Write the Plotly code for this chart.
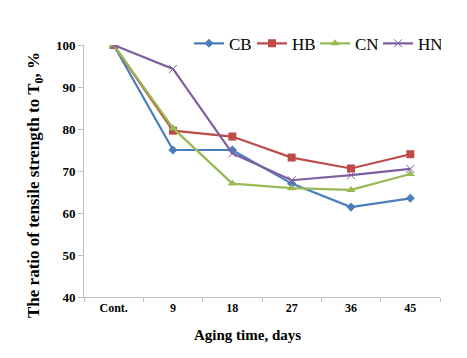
import plotly.graph_objects as go

categories = ["Cont.", "9", "18", "27", "36", "45"]
CB = [100, 75.0, 75.0, 67.0, 61.4, 63.5]
HB = [100, 79.6, 78.2, 73.2, 70.6, 74.0]
CN = [100, 80.2, 67.0, 65.9, 65.5, 69.3]
HN = [100, 94.3, 74.2, 67.8, 69.0, 70.5]

series = [
    ("CB", CB, "#4A7EBB", "diamond", 7),
    ("HB", HB, "#BE4B48", "square", 8),
    ("CN", CN, "#98B954", "triangle-up", 8),
    ("HN", HN, "#7D5FA0", "x-thin", 8),
]

fig = go.Figure()
for name, vals, color, sym, size in series:
    marker = dict(symbol=sym, size=size, color=color)
    if sym == "x-thin":
        marker["line"] = dict(color=color, width=1)
    fig.add_trace(go.Scatter(
        x=categories, y=vals, name=name, mode="lines+markers",
        line=dict(color=color, width=2.2), marker=marker,
    ))

font_family = "Liberation Serif, Times New Roman, serif"
L, R, T, B = 84, 440, 45, 297
fig.update_layout(
    width=467, height=358,
    margin=dict(l=L, r=467 - R, t=T, b=358 - B, autoexpand=False),
    plot_bgcolor="white", paper_bgcolor="white",
    font=dict(family=font_family, color="black"),
    showlegend=True,
    legend=dict(orientation="h", x=(189 - L) / (R - L), xanchor="left", y=1.005, yanchor="middle",
                font=dict(size=17, family=font_family), itemwidth=30,
                entrywidth=18, entrywidthmode="pixels",
                bgcolor="rgba(0,0,0,0)", tracegroupgap=0),
    xaxis=dict(
        type="category", range=[-0.5, 5.5], showgrid=False, automargin=False,
        showline=True, linecolor="#BFBFBF", linewidth=1,
        ticks="outside", ticklen=4, tickcolor="#BFBFBF", tickson="boundaries",
        tickfont=dict(size=12, family=font_family, weight="bold"),
    ),
    yaxis=dict(
        range=[40, 100], dtick=10, showgrid=False, zeroline=False, automargin=False,
        showline=True, linecolor="#BFBFBF", linewidth=1,
        ticks="outside", ticklen=5, tickcolor="#BFBFBF",
        tickfont=dict(size=13, family=font_family, weight="bold"),
    ),
    annotations=[
        dict(text="<b>Aging time, days</b>", xref="paper", yref="paper",
             x=(247 - L) / (R - L), y=-(335 - B) / (B - T), xanchor="center", yanchor="middle",
             showarrow=False, font=dict(size=15, family=font_family)),
        dict(text="<b>The ratio of tensile strength to T<sub>0</sub>, %</b>", xref="paper", yref="paper",
             x=-(L - 35) / (R - L), y=(B - 185) / (B - T), xanchor="center", yanchor="middle", textangle=-90,
             showarrow=False, font=dict(size=17, family=font_family)),
    ],
)

fig.write_html("out.html", config={"displayModeBar": False},
               post_script="document.body.style.margin='0';")
